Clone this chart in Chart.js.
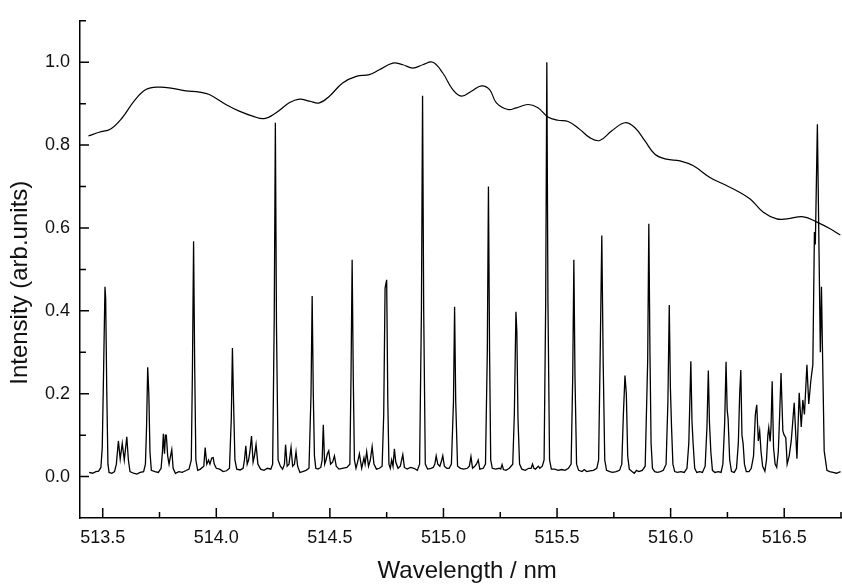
<!DOCTYPE html>
<html>
<head>
<meta charset="utf-8">
<script src="https://cdn.jsdelivr.net/npm/chart.js@4/dist/chart.umd.min.js"></script>
<style>
  html, body { margin: 0; padding: 0; background: #fff; }
  #wrap { width: 842px; height: 586px; position: relative; }
</style>
</head>
<body>
<div id="wrap"><canvas id="c"></canvas></div>
<script>
// 光譜（nm, 強度）— 由圖上讀值
const spectrum = [
  [513.440,0.010],[513.455,0.008],[513.470,0.012],[513.482,0.013],[513.492,0.022],[513.498,0.070],[513.504,0.260],[513.510,0.458],[513.513,0.430],[513.518,0.200],[513.523,0.030],[513.528,0.010],
  [513.540,0.008],[513.552,0.012],[513.560,0.030],[513.569,0.086],[513.577,0.042],[513.586,0.080],[513.595,0.040],[513.606,0.096],[513.613,0.040],[513.620,0.012],[513.635,0.008],[513.650,0.006],
  [513.665,0.010],[513.680,0.012],[513.688,0.030],[513.693,0.120],[513.698,0.264],[513.703,0.200],[513.708,0.060],[513.714,0.015],[513.730,0.012],[513.745,0.010],[513.757,0.020],[513.763,0.060],
  [513.767,0.103],[513.772,0.055],[513.776,0.100],[513.780,0.100],[513.786,0.050],[513.792,0.030],[513.797,0.045],[513.804,0.065],[513.810,0.020],[513.820,0.008],[513.835,0.012],[513.850,0.010],
  [513.865,0.014],[513.880,0.018],[513.890,0.040],[513.895,0.260],[513.900,0.568],[513.905,0.260],[513.910,0.040],[513.918,0.015],[513.930,0.018],[513.945,0.025],[513.951,0.070],[513.958,0.030],
  [513.966,0.040],[513.972,0.030],[513.980,0.045],[513.986,0.046],[513.991,0.030],[514.000,0.020],[514.015,0.018],[514.030,0.012],[514.045,0.014],[514.058,0.020],[514.066,0.140],[514.071,0.310],
  [514.076,0.180],[514.082,0.040],[514.090,0.018],[514.105,0.016],[514.118,0.020],[514.124,0.040],[514.130,0.074],[514.136,0.030],[514.142,0.040],[514.148,0.060],[514.155,0.098],[514.162,0.035],
  [514.168,0.050],[514.175,0.077],[514.183,0.030],[514.195,0.018],[514.210,0.015],[514.225,0.020],[514.240,0.018],[514.248,0.030],[514.255,0.380],[514.260,0.854],[514.265,0.360],[514.272,0.040],
  [514.282,0.025],[514.292,0.018],[514.300,0.030],[514.305,0.077],[514.312,0.025],[514.320,0.030],[514.329,0.070],[514.336,0.025],[514.344,0.030],[514.351,0.060],[514.358,0.025],[514.368,0.010],
  [514.380,0.012],[514.395,0.015],[514.408,0.020],[514.417,0.200],[514.422,0.436],[514.427,0.200],[514.432,0.050],[514.438,0.020],[514.448,0.018],[514.460,0.022],[514.466,0.040],[514.471,0.125],
  [514.477,0.030],[514.483,0.040],[514.489,0.055],[514.495,0.062],[514.503,0.030],[514.512,0.035],[514.520,0.050],[514.528,0.025],[514.540,0.018],[514.555,0.020],[514.575,0.022],[514.588,0.030],
  [514.593,0.240],[514.598,0.523],[514.603,0.240],[514.608,0.040],[514.615,0.020],[514.622,0.035],[514.630,0.055],[514.640,0.020],[514.650,0.045],[514.655,0.030],[514.662,0.060],[514.670,0.025],
  [514.678,0.040],[514.686,0.072],[514.694,0.030],[514.705,0.018],[514.718,0.020],[514.730,0.025],[514.737,0.150],[514.743,0.455],[514.750,0.475],[514.755,0.180],[514.760,0.030],[514.766,0.020],
  [514.772,0.040],[514.778,0.025],[514.784,0.067],[514.790,0.035],[514.800,0.020],[514.810,0.025],[514.821,0.053],[514.828,0.022],[514.840,0.018],[514.855,0.022],[514.870,0.020],[514.885,0.015],
  [514.895,0.030],[514.903,0.400],[514.908,0.919],[514.913,0.400],[514.920,0.030],[514.930,0.018],[514.945,0.020],[514.955,0.022],[514.962,0.030],[514.968,0.050],[514.975,0.030],[514.984,0.025],
  [514.990,0.035],[514.997,0.050],[515.004,0.025],[515.015,0.020],[515.025,0.020],[515.035,0.030],[515.044,0.180],[515.049,0.410],[515.054,0.180],[515.062,0.025],[515.075,0.020],[515.090,0.018],
  [515.105,0.020],[515.114,0.025],[515.121,0.048],[515.128,0.020],[515.138,0.025],[515.145,0.030],[515.153,0.040],[515.160,0.018],[515.175,0.020],[515.185,0.030],[515.193,0.300],[515.198,0.700],
  [515.203,0.300],[515.208,0.040],[515.215,0.020],[515.230,0.018],[515.245,0.020],[515.252,0.018],[515.258,0.029],[515.264,0.017],[515.275,0.015],[515.290,0.020],[515.305,0.030],[515.312,0.150],
  [515.319,0.398],[515.323,0.350],[515.328,0.140],[515.335,0.030],[515.345,0.018],[515.360,0.015],[515.375,0.020],[515.386,0.020],[515.392,0.030],[515.398,0.020],[515.405,0.018],[515.412,0.022],
  [515.418,0.025],[515.424,0.020],[515.435,0.025],[515.443,0.040],[515.450,0.420],[515.455,1.000],[515.460,0.420],[515.467,0.040],[515.475,0.018],[515.490,0.018],[515.505,0.015],[515.520,0.017],
  [515.535,0.015],[515.550,0.020],[515.562,0.030],[515.569,0.240],[515.574,0.523],[515.579,0.240],[515.586,0.030],[515.595,0.015],[515.610,0.012],[515.620,0.017],[515.630,0.012],[515.645,0.014],
  [515.660,0.015],[515.675,0.020],[515.683,0.040],[515.690,0.300],[515.697,0.582],[515.703,0.280],[515.710,0.040],[515.718,0.015],[515.732,0.012],[515.745,0.010],[515.760,0.012],[515.775,0.015],
  [515.785,0.030],[515.792,0.150],[515.799,0.244],[515.805,0.200],[515.811,0.050],[515.818,0.018],[515.830,0.012],[515.840,0.008],[515.850,0.015],[515.860,0.012],[515.875,0.015],[515.888,0.025],
  [515.899,0.280],[515.904,0.610],[515.909,0.300],[515.914,0.080],[515.920,0.020],[515.930,0.012],[515.942,0.010],[515.955,0.012],[515.968,0.015],[515.980,0.030],[515.988,0.180],[515.994,0.414],
  [515.999,0.214],[516.004,0.120],[516.010,0.030],[516.018,0.012],[516.030,0.010],[516.045,0.012],[516.060,0.010],[516.072,0.020],[516.080,0.080],[516.089,0.278],[516.094,0.134],[516.099,0.080],
  [516.106,0.020],[516.115,0.010],[516.128,0.012],[516.140,0.010],[516.152,0.025],[516.160,0.120],[516.166,0.256],[516.171,0.130],[516.177,0.060],[516.184,0.015],[516.195,0.010],[516.210,0.012],
  [516.222,0.010],[516.230,0.030],[516.238,0.130],[516.244,0.277],[516.249,0.160],[516.253,0.140],[516.260,0.040],[516.268,0.012],[516.280,0.010],[516.290,0.020],[516.298,0.080],[516.304,0.200],
  [516.309,0.257],[516.314,0.100],[516.319,0.080],[516.325,0.030],[516.333,0.012],[516.345,0.012],[516.355,0.020],[516.365,0.050],[516.373,0.150],[516.379,0.173],[516.386,0.086],[516.392,0.110],
  [516.398,0.060],[516.405,0.025],[516.415,0.013],[516.422,0.040],[516.428,0.100],[516.432,0.118],[516.438,0.085],[516.442,0.120],[516.447,0.230],[516.453,0.070],[516.460,0.030],[516.467,0.022],
  [516.474,0.060],[516.480,0.150],[516.486,0.250],[516.494,0.110],[516.500,0.100],[516.507,0.094],[516.513,0.030],[516.522,0.050],[516.531,0.086],[516.544,0.178],[516.556,0.043],[516.566,0.202],
  [516.575,0.120],[516.582,0.185],[516.589,0.150],[516.600,0.270],[516.608,0.175],[516.617,0.230],[516.626,0.270],[516.633,0.590],[516.637,0.560],[516.646,0.850],[516.659,0.300],[516.664,0.458],
  [516.668,0.320],[516.676,0.062],[516.688,0.015],[516.700,0.012],[516.715,0.010],[516.730,0.008],[516.748,0.012],
];

// 上方平滑曲線
const envelope = [
  [513.437,0.822],[513.484,0.831],[513.535,0.839],[513.586,0.866],[513.638,0.906],[513.690,0.934],[513.748,0.940],[513.807,0.937],
  [513.866,0.931],[513.925,0.928],[513.969,0.922],[514.042,0.898],[514.101,0.882],[514.160,0.870],[514.211,0.864],[514.263,0.878],
  [514.321,0.902],[514.366,0.911],[514.410,0.906],[514.454,0.902],[514.498,0.918],[514.556,0.950],[514.616,0.966],[514.674,0.970],
  [514.718,0.982],[514.777,0.998],[514.821,0.994],[514.865,0.986],[514.909,0.994],[514.953,1.000],[514.997,0.974],[515.041,0.934],
  [515.079,0.918],[515.123,0.930],[515.167,0.943],[515.203,0.934],[515.233,0.902],[515.284,0.886],[515.321,0.890],[515.372,0.898],
  [515.416,0.890],[515.460,0.868],[515.504,0.860],[515.549,0.857],[515.600,0.838],[515.644,0.818],[515.688,0.811],[515.740,0.834],
  [515.799,0.854],[515.843,0.842],[515.887,0.810],[515.931,0.778],[515.982,0.766],[516.041,0.762],[516.100,0.750],[516.173,0.722],
  [516.232,0.706],[516.291,0.690],[516.350,0.670],[516.408,0.638],[516.467,0.622],[516.512,0.622],[516.585,0.627],[516.644,0.614],
  [516.702,0.598],[516.747,0.583],
];

// 刻度
const xMajor = [513.5, 514.0, 514.5, 515.0, 515.5, 516.0, 516.5];
const xMinor = [513.75, 514.25, 514.75, 515.25, 515.75, 516.25, 516.75];
const yMajor = [0.0, 0.2, 0.4, 0.6, 0.8, 1.0];
const yMinor = [0.1, 0.3, 0.5, 0.7, 0.9, 1.1];

const FONT = "'Liberation Sans', Arial, Helvetica, sans-serif";

// 內向刻度線（Origin 風格）
const inwardTicks = {
  id: 'inwardTicks',
  afterDraw(chart) {
    const { ctx, chartArea: a, scales: { x, y } } = chart;
    ctx.save();
    ctx.strokeStyle = '#000';
    ctx.lineWidth = 1.5;
    ctx.beginPath();
    const xt = (v, len) => { const p = x.getPixelForValue(v); ctx.moveTo(p, a.bottom); ctx.lineTo(p, a.bottom - len); };
    const yt = (v, len) => { const p = y.getPixelForValue(v); ctx.moveTo(a.left, p); ctx.lineTo(a.left + len, p); };
    xMajor.forEach((v) => xt(v, 10));
    xMinor.forEach((v) => xt(v, 6));
    yMajor.forEach((v) => yt(v, 9));
    yMinor.forEach((v) => yt(v, 6));
    ctx.stroke();
    ctx.restore();
  },
};

const toXY = (arr) => arr.map(([x, y]) => ({ x, y }));

new Chart(document.getElementById('c'), {
  type: 'line',
  data: {
    datasets: [
      {
        data: toXY(envelope),
        borderColor: '#000',
        borderWidth: 1.2,
        pointRadius: 0,
        tension: 0.4,
        fill: false,
      },
      {
        data: toXY(spectrum),
        borderColor: '#000',
        borderWidth: 1.3,
        pointRadius: 0,
        tension: 0,
        fill: false,
      },
    ],
  },
  options: {
    responsive: true,
    maintainAspectRatio: false,
    animation: false,
    layout: { padding: { top: 16, right: 1, left: 0, bottom: 0 } },
    plugins: { legend: { display: false }, tooltip: { enabled: false } },
    scales: {
      x: {
        type: 'linear',
        min: 513.4,
        max: 516.75,
        afterBuildTicks: (s) => { s.ticks = xMajor.map((v) => ({ value: v })); },
        afterFit: (s) => { s.height = 68; },
        grid: { display: false, drawTicks: false },
        border: { display: true, color: '#000', width: 1.5 },
        ticks: {
          autoSkip: false,
          maxRotation: 0,
          padding: 9,
          color: '#111',
          font: { family: FONT, size: 18 },
          callback: (v) => Number(v).toFixed(1),
        },
        title: {
          display: true,
          text: '  Wavelength / nm',
          color: '#111',
          font: { family: FONT, size: 24 },
          padding: { top: 0, bottom: 0 },
        },
      },
      y: {
        type: 'linear',
        min: -0.1,
        max: 1.1,
        afterBuildTicks: (s) => { s.ticks = yMajor.map((v) => ({ value: v })); },
        afterFit: (s) => { s.width = 80; },
        grid: { display: false, drawTicks: false },
        border: { display: true, color: '#000', width: 1.5 },
        ticks: {
          padding: 10,
          color: '#111',
          font: { family: FONT, size: 18 },
          callback: (v) => Number(v).toFixed(1),
        },
        title: {
          display: true,
          text: 'Intensity (arb.units)    ',
          color: '#111',
          font: { family: FONT, size: 24 },
          padding: { top: 6, bottom: 0 },
        },
      },
    },
  },
  plugins: [inwardTicks],
});
</script>
</body>
</html>
